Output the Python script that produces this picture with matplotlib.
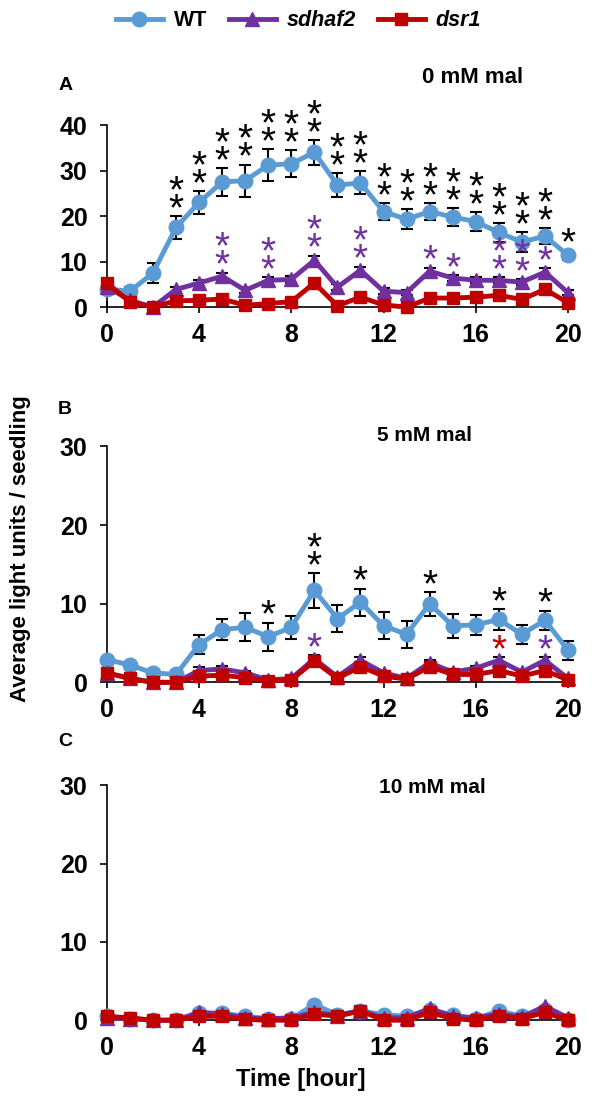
import numpy as np
import matplotlib.pyplot as plt

plt.rcParams['font.family'] = ['Liberation Sans', 'DejaVu Sans']
plt.rcParams['font.weight'] = 'bold'

hours = np.arange(0, 21)
xticks = np.arange(0, 21, 4)
labels = ['WT', 'sdhaf2', 'dsr1']
colors = ['#5B9BD5', '#7030A0', '#C00000']

# A) 0 mM mal
wt_a = [4.0, 3.5, 7.5, 17.5, 23.0, 27.5, 27.8, 31.2, 31.5, 34.0, 26.8,
        27.3, 21.0, 19.3, 21.0, 19.8, 18.8, 16.4, 14.3, 15.6, 11.4]
wt_a_err = [0.4, 1.0, 2.2, 2.5, 2.5, 3.0, 3.5, 3.5, 3.0, 2.7, 2.6,
            2.5, 1.8, 2.2, 1.9, 1.9, 2.0, 2.0, 2.2, 1.8, 1.0]
sd_a = [4.5, 1.5, 0.0, 3.9, 5.3, 6.8, 3.7, 5.9, 6.1, 10.3, 4.4,
        8.1, 3.5, 3.2, 7.9, 6.4, 5.9, 5.9, 5.5, 7.7, 3.2]
sd_a_err = [0.5, 0.4, 0.2, 0.6, 0.7, 0.8, 0.6, 0.7, 0.8, 1.0, 0.6,
            0.8, 0.6, 0.6, 0.8, 0.7, 0.7, 0.7, 0.7, 0.8, 0.5]
dsr_a = [5.3, 1.2, 0.0, 1.4, 1.5, 1.8, 0.4, 0.8, 1.2, 5.3, 0.3,
         2.2, 0.5, 0.0, 2.0, 2.0, 2.2, 2.6, 1.7, 3.9, 1.0]
dsr_a_err = [0.5, 0.3, 0.1, 0.4, 0.4, 0.4, 0.2, 0.3, 0.3, 0.6, 0.2,
             0.4, 0.2, 0.1, 0.4, 0.4, 0.4, 0.4, 0.4, 0.5, 0.3]
stars_a_wt = [(h, 2) for h in range(3, 20)] + [(20, 1)]
stars_a_sd = [(5, 2), (7, 2), (9, 2), (11, 2), (14, 1), (15, 1), (17, 2), (18, 2), (19, 1)]

# B) 5 mM mal
wt_b = [2.9, 2.2, 1.2, 1.0, 4.8, 6.7, 7.0, 5.8, 7.0, 11.7, 8.1,
        10.2, 7.2, 6.1, 10.0, 7.2, 7.3, 8.0, 6.1, 7.9, 4.1]
wt_b_err = [0.3, 0.3, 0.2, 0.2, 1.2, 1.3, 1.8, 1.8, 1.5, 2.2, 1.7,
            1.7, 1.7, 1.7, 1.5, 1.5, 1.3, 1.3, 1.2, 1.2, 1.2]
sd_b = [1.2, 0.5, 0.0, 0.0, 1.5, 1.7, 1.2, 0.3, 0.5, 3.0, 0.7,
        2.8, 1.2, 0.5, 2.5, 1.3, 1.8, 2.8, 1.3, 2.8, 0.5]
sd_b_err = [0.2, 0.2, 0.1, 0.1, 0.4, 0.4, 0.3, 0.2, 0.2, 0.5, 0.3,
            0.4, 0.3, 0.2, 0.4, 0.3, 0.3, 0.4, 0.3, 0.4, 0.2]
dsr_b = [1.2, 0.5, 0.0, 0.0, 0.8, 0.9, 0.6, 0.2, 0.3, 2.7, 0.5,
         2.0, 0.8, 0.4, 2.0, 1.0, 1.0, 1.5, 0.8, 1.5, 0.3]
dsr_b_err = [0.2, 0.2, 0.1, 0.1, 0.3, 0.3, 0.2, 0.1, 0.1, 0.4, 0.2,
             0.3, 0.2, 0.2, 0.3, 0.2, 0.2, 0.3, 0.2, 0.3, 0.1]
stars_b_wt = [(7, 1), (9, 2), (11, 1), (14, 1), (17, 1), (19, 1)]
stars_b_sd = [(9, 1), (19, 1)]
stars_b_dsr = [(17, 1)]

# C) 10 mM mal
wt_c = [0.5, 0.2, 0.0, 0.0, 0.9, 0.9, 0.5, 0.2, 0.2, 2.0, 0.7,
        1.2, 0.7, 0.5, 1.3, 0.7, 0.2, 1.2, 0.5, 1.3, 0.0]
sd_c = [0.3, 0.2, 0.0, 0.0, 1.0, 0.8, 0.3, 0.2, 0.3, 1.0, 0.6,
        1.2, 0.3, 0.3, 1.5, 0.5, 0.3, 0.8, 0.4, 1.8, 0.3]
dsr_c = [0.5, 0.3, 0.0, 0.0, 0.5, 0.5, 0.1, 0.0, 0.0, 0.8, 0.5,
         1.2, 0.0, 0.0, 1.0, 0.2, 0.0, 0.6, 0.2, 1.0, 0.0]


def draw_panel(ax, series, errs, ymax):
    markers = ['o', '^', 's']
    sizes = [10.5, 10, 8.5]
    for y, e in zip(series, errs):
        if e is not None:
            ax.errorbar(hours, y, yerr=e, fmt='none', ecolor='black', elinewidth=1.5,
                        capsize=4.5, capthick=1.5, zorder=2, clip_on=False)
    for y, c, m, s, lab, z in zip(series, colors, markers, sizes, labels, [3, 4, 5]):
        ax.plot(hours, y, color=c, lw=3.5, marker=m, ms=s, zorder=z,
                clip_on=False, label=lab)
    ax.set_xlim(0, 20)
    ax.set_ylim(0, ymax)
    ax.spines[['top', 'right']].set_visible(False)
    ax.spines[['left', 'bottom']].set_linewidth(1.2)
    ax.set_xticks(xticks)
    ax.set_yticks(np.arange(0, ymax + 1, 10))
    ax.tick_params(axis='x', direction='inout', length=9, width=1.2, labelsize=18, pad=7)
    ax.tick_params(axis='y', direction='out', length=5, width=1.2, labelsize=18, pad=9)


def add_stars(ax, stars, tops, color):
    # one text per group: n stacked asterisks above the error bar
    for h, n in stars:
        ax.annotate('\n'.join(['*'] * n), (h, tops[h]), xytext=(0, -12),
                    textcoords='offset pixels', ha='center', va='bottom',
                    fontsize=28, fontweight='normal', linespacing=0.36,
                    color=color, annotation_clip=False, zorder=6)


fig = plt.figure(figsize=(6.14, 10.97), dpi=100)
axA = fig.add_axes([0.174, 0.720, 0.751, 0.166])
axB = fig.add_axes([0.174, 0.378, 0.751, 0.215])
axC = fig.add_axes([0.174, 0.070, 0.751, 0.214])

draw_panel(axA, [wt_a, sd_a, dsr_a], [wt_a_err, sd_a_err, dsr_a_err], 40)
draw_panel(axB, [wt_b, sd_b, dsr_b], [wt_b_err, sd_b_err, dsr_b_err], 30)
draw_panel(axC, [wt_c, sd_c, dsr_c], [None, None, None], 30)

top_a_wt = np.array(wt_a) + np.array(wt_a_err)
top_a_sd = np.array(sd_a) + np.array(sd_a_err)
top_b_wt = np.array(wt_b) + np.array(wt_b_err)
top_b_low = np.maximum(np.array(sd_b) + np.array(sd_b_err), np.array(dsr_b) + np.array(dsr_b_err))
add_stars(axA, stars_a_wt, top_a_wt, 'black')
add_stars(axA, stars_a_sd, top_a_sd, colors[1])
add_stars(axB, stars_b_wt, top_b_wt, 'black')
add_stars(axB, stars_b_sd, top_b_low, colors[1])
add_stars(axB, stars_b_dsr, top_b_low, colors[2])

fig.text(0.106, 0.9225, 'A', fontsize=14, ha='center', va='center')
fig.text(0.106, 0.627, 'B', fontsize=14, ha='center', va='center')
fig.text(0.106, 0.324, 'C', fontsize=14, ha='center', va='center')
fig.text(0.770, 0.929, '0 mM mal', fontsize=16, ha='center', va='center')
fig.text(0.692, 0.603, '5 mM mal', fontsize=15, ha='center', va='center')
fig.text(0.704, 0.282, '10 mM mal', fontsize=15, ha='center', va='center')
fig.text(0.033, 0.5, 'Average light units / seedling', fontsize=16, rotation=90,
         ha='center', va='center')
fig.text(0.49, 0.0155, 'Time [hour]', fontsize=17, ha='center', va='center')

handles, labs = axA.get_legend_handles_labels()
leg = fig.legend(handles, labs, loc='center', bbox_to_anchor=(0.486, 0.981), ncol=3,
                 frameon=False, fontsize=15.5, handlelength=2.2, columnspacing=1.0,
                 handletextpad=0.5)
for t in leg.get_texts()[1:]:
    t.set_fontstyle('italic')

fig.savefig('out.png', dpi=100)
